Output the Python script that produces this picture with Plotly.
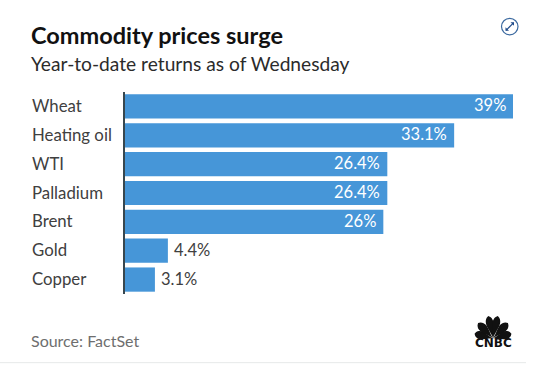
import math
import plotly.graph_objects as go

categories = ["Wheat", "Heating oil", "WTI", "Palladium", "Brent", "Gold", "Copper"]
values = [39, 33.1, 26.4, 26.4, 26, 4.4, 3.1]
value_labels = ["39%", "33.1%", "26.4%", "26.4%", "26%", "4.4%", "3.1%"]
label_inside = [True, True, True, True, True, False, False]

W, H = 550, 384
L, R, T, B = 124, 513, 91.5, 294.5
FONT = "Lato"


def px(x):
    return (x - L) / (R - L)


def py(y):
    return (B - y) / (B - T)


def P(pts):
    return "M" + " L".join(f"{px(x):.4f},{py(y):.4f}" for x, y in pts) + " Z"


fig = go.Figure(
    go.Bar(
        x=values,
        y=categories,
        orientation="h",
        marker=dict(color="#4696d8", line_width=0),
        width=0.84,
        hoverinfo="skip",
    )
)

annotations = [
    dict(text="<b>Commodity prices surge</b>", x=px(29), y=py(34), xanchor="left", yanchor="middle",
         font=dict(family=FONT, size=23.5, color="#111111")),
    dict(text="Year-to-date returns as of Wednesday", x=px(29), y=py(62.5), xanchor="left", yanchor="middle",
         font=dict(family=FONT, size=19.2, color="#2b2b2b")),
    dict(text="Source: FactSet", x=px(29), y=py(341), xanchor="left", yanchor="middle",
         font=dict(family=FONT, size=16, color="#6e6e6e")),
    dict(text="<b>CNBC</b>", x=px(493), y=py(343.5), xanchor="center", yanchor="middle",
         font=dict(family="DejaVu Sans", size=12, color="#111111")),
]
for cat in categories:
    annotations.append(
        dict(text=cat, xref="paper", yref="y", x=px(30), y=cat, yshift=1, xanchor="left", yanchor="middle",
             font=dict(family=FONT, size=16.8, color="#404040"))
    )
for cat, val, lab, inside in zip(categories, values, value_labels, label_inside):
    annotations.append(
        dict(text=lab, xref="x", yref="y", x=val, y=cat, yshift=1, xshift=-5 if inside else 4,
             xanchor="right" if inside else "left", yanchor="middle",
             font=dict(family=FONT, size=16.5, color="#ffffff" if inside else "#404040"))
    )
for a in annotations:
    a.setdefault("xref", "paper")
    a.setdefault("yref", "paper")
    a["showarrow"] = False

shapes = [
    dict(type="line", xref="paper", yref="paper", x0=0, x1=0, y0=0, y1=1,
         line=dict(color="#37474f", width=2), layer="above"),
    dict(type="line", xref="paper", yref="paper", x0=px(0), x1=px(526), y0=py(363.5), y1=py(363.5),
         line=dict(color="#e6e9e9", width=1)),
    dict(type="circle", xref="paper", yref="paper", x0=px(501.5), x1=px(518), y0=py(34), y1=py(17.5),
         line=dict(color="#3c6aa0", width=1.2)),
    dict(type="line", xref="paper", yref="paper", x0=px(506), x1=px(513.5), y0=py(29.5), y1=py(22),
         line=dict(color="#1f4a8a", width=1.2)),
    dict(type="path", xref="paper", yref="paper", path=P([(510.5, 21.5), (514, 21.5), (514, 25)]),
         fillcolor="#1f4a8a", line_width=0),
    dict(type="path", xref="paper", yref="paper", path=P([(505.5, 26.5), (505.5, 30), (509, 30)]),
         fillcolor="#1f4a8a", line_width=0),
]

# peacock feathers of the logo
cx, cy = 493, 339
for ang, length, width in [(-76, 19, 4.1), (-44, 21.5, 4.2), (-12, 23, 3.8), (12, 23, 3.8), (44, 21.5, 4.2), (76, 19, 4.1)]:
    a = math.radians(ang)
    ux, uy = math.sin(a), -math.cos(a)
    vx, vy = math.cos(a), math.sin(a)
    n = 16
    prof = [width * math.sin(math.pi * (i / n) ** 1.9) ** 0.7 for i in range(n + 1)]
    pts = [(cx + ux * length * i / n + vx * prof[i], cy + uy * length * i / n + vy * prof[i]) for i in range(n + 1)]
    pts += [(cx + ux * length * i / n - vx * prof[i], cy + uy * length * i / n - vy * prof[i]) for i in range(n, -1, -1)]
    shapes.append(dict(type="path", xref="paper", yref="paper", path=P(pts), fillcolor="#111111", line_width=0))

fig.update_layout(
    width=W,
    height=H,
    autosize=False,
    margin=dict(l=L, r=W - R, t=T, b=H - B, pad=0),
    paper_bgcolor="#ffffff",
    plot_bgcolor="#ffffff",
    showlegend=False,
    bargap=0.16,
    xaxis=dict(range=[0, 39], visible=False, fixedrange=True),
    yaxis=dict(autorange="reversed", showticklabels=False, showgrid=False, zeroline=False, ticks="", fixedrange=True,
               showline=False),
    annotations=annotations,
    shapes=shapes,
)

fig.write_html(
    "out.html",
    config=dict(displayModeBar=False),
    post_script="document.body.style.margin='0';document.documentElement.style.overflow='hidden';",
)
